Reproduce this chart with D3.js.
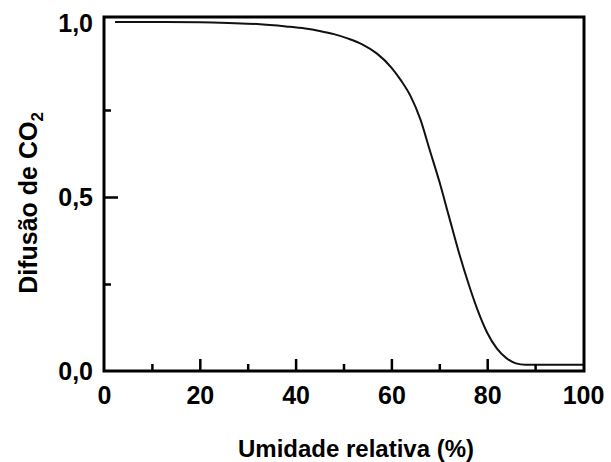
<!DOCTYPE html>
<html>
<head>
<meta charset="utf-8">
<script src="https://cdn.jsdelivr.net/npm/d3@7"></script>
<style>
  html, body { margin: 0; padding: 0; background: #fff; }
  svg { display: block; }
  text { font-family: "Liberation Sans", Arial, sans-serif; font-weight: bold; fill: #000; }
</style>
</head>
<body>
<script>
// ---- data ----
const humidity  = [2.3, 10, 20, 26, 32, 38, 42, 45, 48, 51, 54, 57, 60, 62, 64, 66, 68, 70, 72, 74, 76, 78, 80, 82, 84, 86, 88, 92, 100];
const diffusion = [1.003, 1.003, 1.002, 1.0, 0.997, 0.99, 0.984, 0.977, 0.968, 0.955, 0.938, 0.912, 0.872, 0.835, 0.79, 0.725, 0.635, 0.545, 0.445, 0.345, 0.255, 0.175, 0.11, 0.065, 0.037, 0.022, 0.018, 0.018, 0.018];

const xTickValues  = [0, 20, 40, 60, 80, 100];
const xMajorMarks  = [20, 40, 60, 80];
const xMinorMarks  = [10, 30, 50, 70, 90];
const yTickValues  = [0, 0.5, 1.0];
const yTickLabels  = ["0,0", "0,5", "1,0"];
const yMajorMarks  = [0.5];
const yMinorMarks  = [0.25, 0.75];

const xTitle = "Umidade relativa (%)";
const yTitleMain = "Difusão de CO";
const yTitleSub = "2";

// ---- layout ----
const W = 611, H = 462;
const frame = { left: 104, right: 584, top: 17, bottom: 371 };

const x = d3.scaleLinear().domain([0, 100]).range([104, 583]);
const y = d3.scaleLinear().domain([0, 1]).range([371, 23]);

const svg = d3.select("body").append("svg").attr("width", W).attr("height", H);

// curve
const pts = humidity.map((h, i) => [h, diffusion[i]]);
svg.append("path")
  .datum(pts)
  .attr("fill", "none")
  .attr("stroke", "#111")
  .attr("stroke-width", 2)
  .attr("d", d3.line().x(d => x(d[0])).y(d => y(d[1])).curve(d3.curveMonotoneX));

// tick marks (inward)
function styleTicks(g) {
  g.select(".domain").remove();
  g.selectAll(".tick line").attr("stroke", "#000").attr("stroke-width", 2.5);
  g.selectAll(".tick text").remove();
}
svg.append("g").attr("transform", `translate(0,${frame.bottom})`)
  .call(d3.axisBottom(x).tickValues(xMajorMarks).tickSize(-12))
  .call(styleTicks);
svg.append("g").attr("transform", `translate(0,${frame.bottom})`)
  .call(d3.axisBottom(x).tickValues(xMinorMarks).tickSize(-7))
  .call(styleTicks);
svg.append("g").attr("transform", `translate(${frame.left},0)`)
  .call(d3.axisLeft(y).tickValues(yMajorMarks).tickSize(-14))
  .call(styleTicks);
svg.append("g").attr("transform", `translate(${frame.left},0)`)
  .call(d3.axisLeft(y).tickValues(yMinorMarks).tickSize(-7))
  .call(styleTicks);

// tick labels
const xa = svg.append("g").attr("transform", `translate(0,${frame.bottom})`)
  .call(d3.axisBottom(x).tickValues(xTickValues).tickSize(0).tickPadding(15).tickFormat(d3.format("d")));
xa.select(".domain").remove();
xa.selectAll("text").style("font-size", "25px").attr("font-family", null);

const ya = svg.append("g").attr("transform", `translate(${frame.left},0)`)
  .call(d3.axisLeft(y).tickValues(yTickValues).tickSize(0).tickPadding(11)
    .tickFormat((d, i) => yTickLabels[i]));
ya.select(".domain").remove();
ya.selectAll("text").style("font-size", "25px").attr("font-family", null);

// frame
svg.append("rect")
  .attr("x", frame.left).attr("y", frame.top)
  .attr("width", frame.right - frame.left).attr("height", frame.bottom - frame.top)
  .attr("fill", "none").attr("stroke", "#000").attr("stroke-width", 3);

// titles
svg.append("text")
  .attr("x", 356).attr("y", 457)
  .attr("text-anchor", "middle")
  .style("font-size", "24px")
  .text(xTitle);

const yt = svg.append("text")
  .attr("transform", "translate(37,203) rotate(-90)")
  .attr("text-anchor", "middle")
  .style("font-size", "25px");
yt.append("tspan").text(yTitleMain);
yt.append("tspan").attr("dy", 6).style("font-size", "17px").text(yTitleSub);
</script>
</body>
</html>
